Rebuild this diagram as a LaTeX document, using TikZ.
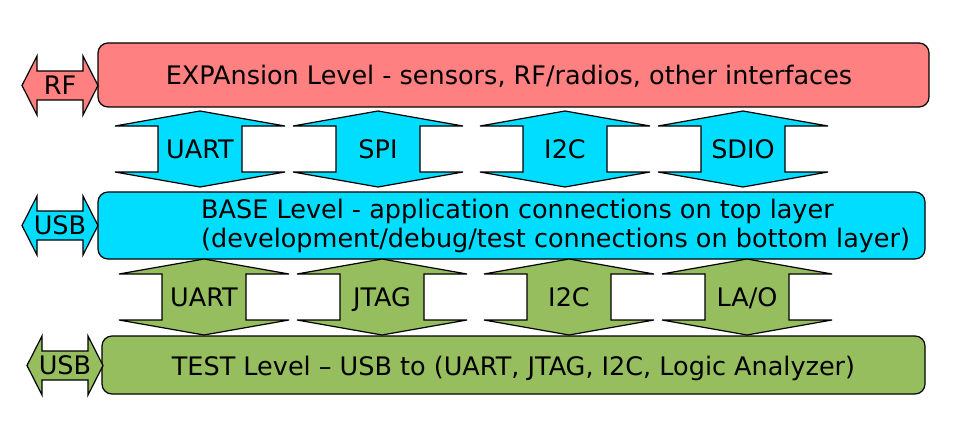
\documentclass[tikz,border=0pt]{standalone}
\usepackage{fontspec}
\setmainfont{DejaVu Sans}
\usetikzlibrary{positioning}

\definecolor{expred}{RGB}{255,128,128}
\definecolor{basecyan}{RGB}{0,221,255}
\definecolor{testgreen}{RGB}{150,190,95}

% vertical double arrow: name, left x, top y, colour, label
\newcommand{\vlink}[5]{%
  \draw[link,fill=#4] (#2+85,#3) -- (#2+170,#3+15) -- (#2+127,#3+15) -- (#2+127,#3+61)
    -- (#2+170,#3+61) -- (#2+85,#3+76) -- (#2,#3+61) -- (#2+43,#3+61) -- (#2+43,#3+15)
    -- (#2,#3+15) -- cycle;
  \node[lbl] (#1) at (#2+85,#3+38) {#5};}
% horizontal double arrow: name, left x, centre y, colour, label
\newcommand{\hlink}[5]{%
  \draw[link,fill=#4] (#2,#3) -- (#2+15,#3-29.5) -- (#2+15,#3-14.5) -- (#2+61,#3-14.5)
    -- (#2+61,#3-29.5) -- (#2+76,#3) -- (#2+61,#3+29.5) -- (#2+61,#3+14.5)
    -- (#2+15,#3+14.5) -- (#2+15,#3+29.5) -- cycle;
  \node[lbl] (#1) at (#2+38,#3) {#5};}

\begin{document}
\begin{tikzpicture}[x=1pt,y=-1pt,
  every node/.style={font=\fontsize{25.5}{29}\selectfont},
  level/.style={draw,line width=1.2pt,rounded corners=10pt,inner sep=0pt},
  link/.style={draw,line width=1.2pt,line join=miter},
  lbl/.style={inner sep=0pt,text height=18.6pt,text depth=0pt}]
\useasboundingbox (0,0) rectangle (968,433);

% levels
\node[level,fill=expred,minimum width=831pt,minimum height=64pt] (expansion) at (513.5,75) {};
\node[lbl] (exptext) at (509,75.5) {EXPAnsion Level - sensors, RF/radios, other interfaces};
\node[level,fill=basecyan,minimum width=827pt,minimum height=67pt] (base) at (511.5,225.5) {};
\node[inner sep=0pt,align=left,anchor=west] (basetext) at (201,226)
  {BASE Level - application connections on top layer\\(development/debug/test connections on bottom layer)};
\node[level,fill=testgreen,minimum width=823pt,minimum height=58pt] (test) at (513.5,365) {};
\node[lbl] (testtext) at (513.5,366) {TEST Level -- USB to (UART, JTAG, I2C, Logic Analyzer)};

% side connectors
\hlink{rf}{22}{85.5}{expred}{RF}
\hlink{usbbase}{22}{225.5}{basecyan}{USB}
\hlink{usbtest}{27}{365.5}{testgreen}{USB}

% expansion <-> base
\vlink{uartx}{115}{111}{basecyan}{UART}
\vlink{spi}{293}{111}{basecyan}{SPI}
\vlink{itwocx}{480}{111}{basecyan}{I2C}
\vlink{sdio}{658}{111}{basecyan}{SDIO}

% base <-> test
\vlink{uartt}{119}{259}{testgreen}{UART}
\vlink{jtag}{297}{259}{testgreen}{JTAG}
\vlink{itwoct}{484}{259}{testgreen}{I2C}
\vlink{lao}{662}{259}{testgreen}{LA/O}
\end{tikzpicture}
\end{document}
